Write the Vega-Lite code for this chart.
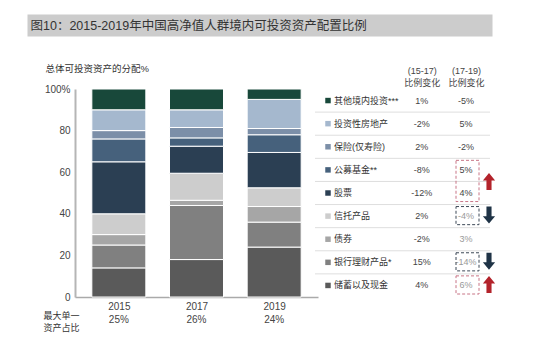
{
  "$schema": "https://vega.github.io/schema/vega-lite/v6.json",
  "width": 425,
  "height": 208,
  "autosize": {"type": "none"},
  "padding": {"left": 75, "top": 89, "right": 50, "bottom": 56},
  "background": "white",
  "config": {"font": "Liberation Sans, Noto Sans CJK SC", "view": {"stroke": null}},
  "datasets": {
    "alloc": [
      {"year": 2015, "item": "储蓄以及现金", "value": 14},
      {"year": 2015, "item": "银行理财产品*", "value": 11},
      {"year": 2015, "item": "债券", "value": 5},
      {"year": 2015, "item": "信托产品", "value": 10},
      {"year": 2015, "item": "股票", "value": 25},
      {"year": 2015, "item": "公募基金**", "value": 11},
      {"year": 2015, "item": "保险(仅寿险)", "value": 4},
      {"year": 2015, "item": "投资性房地产", "value": 10},
      {"year": 2015, "item": "其他境内投资***", "value": 10},
      {"year": 2017, "item": "储蓄以及现金", "value": 18},
      {"year": 2017, "item": "银行理财产品*", "value": 26},
      {"year": 2017, "item": "债券", "value": 2.5},
      {"year": 2017, "item": "信托产品", "value": 13},
      {"year": 2017, "item": "股票", "value": 13},
      {"year": 2017, "item": "公募基金**", "value": 4},
      {"year": 2017, "item": "保险(仅寿险)", "value": 5},
      {"year": 2017, "item": "投资性房地产", "value": 8.5},
      {"year": 2017, "item": "其他境内投资***", "value": 10},
      {"year": 2019, "item": "储蓄以及现金", "value": 24},
      {"year": 2019, "item": "银行理财产品*", "value": 12},
      {"year": 2019, "item": "债券", "value": 7.5},
      {"year": 2019, "item": "信托产品", "value": 9},
      {"year": 2019, "item": "股票", "value": 17},
      {"year": 2019, "item": "公募基金**", "value": 8.5},
      {"year": 2019, "item": "保险(仅寿险)", "value": 3},
      {"year": 2019, "item": "投资性房地产", "value": 14},
      {"year": 2019, "item": "其他境内投资***", "value": 5}
    ],
    "maxshare": [
      {"year": 2015, "share": "25%"},
      {"year": 2017, "share": "26%"},
      {"year": 2019, "share": "24%"}
    ],
    "rows": [
      {"item": "其他境内投资***", "c1": "1%", "c2": "-5%"},
      {"item": "投资性房地产", "c1": "-2%", "c2": "5%"},
      {"item": "保险(仅寿险)", "c1": "2%", "c2": "-2%"},
      {"item": "公募基金**", "c1": "-8%", "c2": "5%"},
      {"item": "股票", "c1": "-12%", "c2": "4%"},
      {"item": "信托产品", "c1": "2%", "c2": "-4%"},
      {"item": "债券", "c1": "-2%", "c2": "3%"},
      {"item": "银行理财产品*", "c1": "15%", "c2": "-14%"},
      {"item": "储蓄以及现金", "c1": "4%", "c2": "6%"}
    ],
    "boxes": [
      {"from": "公募基金**", "to": "股票", "kind": "up"},
      {"from": "信托产品", "to": "信托产品", "kind": "down"},
      {"from": "银行理财产品*", "to": "银行理财产品*", "kind": "down"},
      {"from": "储蓄以及现金", "to": "储蓄以及现金", "kind": "up"}
    ]
  },
  "layer": [
    {
      "layer": [
        {
          "data": {"name": "alloc"},
          "transform": [{"window": [{"op": "row_number", "as": "rank"}], "groupby": ["year"]}],
          "mark": {"type": "bar", "width": 54, "stroke": "white", "strokeWidth": 1},
          "encoding": {
            "x": {
              "field": "year", "type": "quantitative",
              "scale": {"domain": [2014, 2020], "range": [0, 243], "nice": false, "zero": false},
              "axis": {
                "orient": "bottom", "values": [2015, 2017, 2019], "format": "d",
                "domainColor": "#aaaaaa", "domainWidth": 1.5, "ticks": false, "grid": false,
                "labelFontSize": 10, "labelColor": "#444444", "labelPadding": 4,
                "title": ["最大单一", "资产占比"], "titleX": -32, "titleY": 14,
                "titleAlign": "left", "titleBaseline": "top", "titleAnchor": null,
                "titleFontSize": 9, "titleFontWeight": "normal", "titleColor": "#333333",
                "titleLineHeight": 12, "titleAngle": 0
              }
            },
            "y": {
              "field": "value", "type": "quantitative", "stack": "zero",
              "scale": {"domain": [0, 100], "nice": false},
              "axis": {
                "values": [0, 20, 40, 60, 80, 100],
                "labelExpr": "datum.value == 100 ? '100%' : datum.label",
                "domainColor": "#b5b5b5", "domainWidth": 2, "ticks": false, "grid": false,
                "labelFontSize": 10, "labelColor": "#444444", "labelPadding": 5,
                "title": "总体可投资资产的分配%", "titleAngle": 0, "titleX": -30, "titleY": -21,
                "titleAlign": "left", "titleBaseline": "middle", "titleAnchor": null,
                "titleFontSize": 9.5, "titleFontWeight": "normal", "titleColor": "#333333"
              }
            },
            "color": {
              "field": "item", "type": "nominal",
              "scale": {
                "domain": ["储蓄以及现金", "银行理财产品*", "债券", "信托产品", "股票", "公募基金**", "保险(仅寿险)", "投资性房地产", "其他境内投资***"],
                "range": ["#5a5a5a", "#808080", "#a6a6a6", "#cdcdcd", "#2b3f53", "#46617c", "#7c8fa8", "#a5b8ce", "#18483a"]
              },
              "legend": null
            },
            "order": {"field": "rank", "type": "quantitative"}
          }
        },
        {
          "data": {"name": "maxshare"},
          "mark": {"type": "text", "dy": 23, "fontSize": 10, "color": "#444444"},
          "encoding": {
            "x": {"field": "year", "type": "quantitative"},
            "y": {"datum": 0, "type": "quantitative"},
            "text": {"field": "share"}
          }
        }
      ]
    },
    {
      "encoding": {
        "y": {
          "field": "item", "type": "nominal",
          "scale": {
            "type": "band",
            "domain": ["其他境内投资***", "投资性房地产", "保险(仅寿险)", "公募基金**", "股票", "信托产品", "债券", "银行理财产品*", "储蓄以及现金"],
            "paddingInner": 0, "paddingOuter": 0
          },
          "axis": null
        }
      },
      "layer": [
        {
          "data": {"name": "rows"},
          "transform": [{"filter": "datum.item != '其他境内投资***'"}],
          "mark": {"type": "rule", "color": "#dedede", "strokeWidth": 1, "xOffset": -18, "x2Offset": 24},
          "encoding": {
            "x": {
              "datum": "lab", "type": "nominal",
              "scale": {"type": "point", "domain": ["lab", "mid", "c1", "c2"], "range": [258, 391], "padding": 0},
              "axis": {
                "orient": "top", "values": ["c1", "c2"],
                "labelExpr": "datum.value == 'c1' ? ['(15-17)', '比例变化'] : ['(17-19)', '比例变化']",
                "domain": false, "ticks": false, "grid": false, "labelOverlap": false,
                "labelPadding": 14, "labelFontSize": 9, "labelColor": "#444444", "labelLineHeight": 12,
                "labelAngle": 0, "title": null
              }
            },
            "x2": {"datum": "c2"},
            "y": {"field": "item", "type": "nominal", "bandPosition": 0}
          }
        },
        {
          "data": {"name": "rows"},
          "mark": {"type": "square", "size": 30, "opacity": 1, "filled": true, "xOffset": -5},
          "encoding": {
            "x": {"datum": "lab", "type": "nominal"},
            "y": {"field": "item", "type": "nominal"},
            "color": {"field": "item", "type": "nominal", "legend": null}
          }
        },
        {
          "data": {"name": "rows"},
          "mark": {"type": "text", "align": "left", "dx": 1, "fontSize": 9, "color": "#333333"},
          "encoding": {
            "x": {"datum": "lab", "type": "nominal"},
            "y": {"field": "item", "type": "nominal"},
            "text": {"field": "item"}
          }
        },
        {
          "data": {"name": "rows"},
          "mark": {"type": "text", "align": "center", "fontSize": 9, "color": "#444444"},
          "encoding": {
            "x": {"datum": "c1", "type": "nominal"},
            "y": {"field": "item", "type": "nominal"},
            "text": {"field": "c1"}
          }
        },
        {
          "data": {"name": "rows"},
          "mark": {"type": "text", "align": "center", "fontSize": 9},
          "encoding": {
            "x": {"datum": "c2", "type": "nominal"},
            "y": {"field": "item", "type": "nominal"},
            "text": {"field": "c2"},
            "color": {
              "condition": {"test": "indexof(['信托产品', '债券', '银行理财产品*', '储蓄以及现金'], datum.item) >= 0", "value": "#9a9a9a"},
              "value": "#444444"
            }
          }
        },
        {
          "data": {"name": "boxes"},
          "mark": {"type": "rect", "fillOpacity": 0, "strokeWidth": 1, "strokeDash": [3, 2], "xOffset": -10, "x2Offset": 13, "yOffset": 2, "y2Offset": -3},
          "encoding": {
            "x": {"datum": "c2", "type": "nominal"},
            "x2": {"datum": "c2"},
            "y": {"field": "from", "type": "nominal", "bandPosition": 0},
            "y2": {"field": "to", "bandPosition": 1},
            "stroke": {"field": "kind", "type": "nominal", "scale": {"domain": ["up", "down"], "range": ["#c87586", "#3d4957"]}, "legend": null}
          }
        },
        {
          "data": {"name": "boxes"},
          "transform": [{"filter": "datum.from == datum.to"}],
          "mark": {"type": "point", "filled": true, "opacity": 1, "size": 289, "xOffset": 23, "yOffset": -1},
          "encoding": {
            "x": {"datum": "c2", "type": "nominal"},
            "y": {"field": "from", "type": "nominal"},
            "shape": {"field": "kind", "type": "nominal", "scale": {"domain": ["up", "down"], "range": ["M0,-1L0.72,-0.12L0.3,-0.12L0.3,1L-0.3,1L-0.3,-0.12L-0.72,-0.12Z", "M0,1L0.72,0.12L0.3,0.12L0.3,-1L-0.3,-1L-0.3,0.12L-0.72,0.12Z"]}, "legend": null},
            "fill": {"field": "kind", "type": "nominal", "scale": {"domain": ["up", "down"], "range": ["#b3232b", "#1f3346"]}, "legend": null}
          }
        },
        {
          "data": {"name": "boxes"},
          "transform": [{"filter": "datum.from != datum.to"}],
          "mark": {"type": "point", "filled": true, "opacity": 1, "size": 289, "xOffset": 23},
          "encoding": {
            "x": {"datum": "c2", "type": "nominal"},
            "y": {"field": "from", "type": "nominal", "bandPosition": 1},
            "shape": {"field": "kind", "type": "nominal", "legend": null},
            "fill": {"field": "kind", "type": "nominal", "legend": null}
          }
        }
      ]
    },
    {
      "data": {"values": [{}]},
      "mark": {"type": "point", "opacity": 0},
      "encoding": {
        "x": {
          "datum": 0, "type": "quantitative",
          "scale": {"domain": [0, 1], "range": [-48, 417], "nice": false},
          "axis": {
            "orient": "top", "offset": 64, "domainWidth": 22, "domainColor": "#cccccc", "domainCap": "butt",
            "ticks": false, "labels": false, "grid": false,
            "title": "图10：2015-2019年中国高净值人群境内可投资资产配置比例",
            "titleX": -45, "titleY": 0, "titleAlign": "left", "titleBaseline": "middle", "titleAnchor": null,
            "titleFontSize": 12.5, "titleFontWeight": "normal", "titleColor": "#333333", "titleAngle": 0
          }
        }
      }
    }
  ],
  "resolve": {"scale": {"x": "independent", "y": "independent"}, "axis": {"x": "independent", "y": "independent"}}
}
